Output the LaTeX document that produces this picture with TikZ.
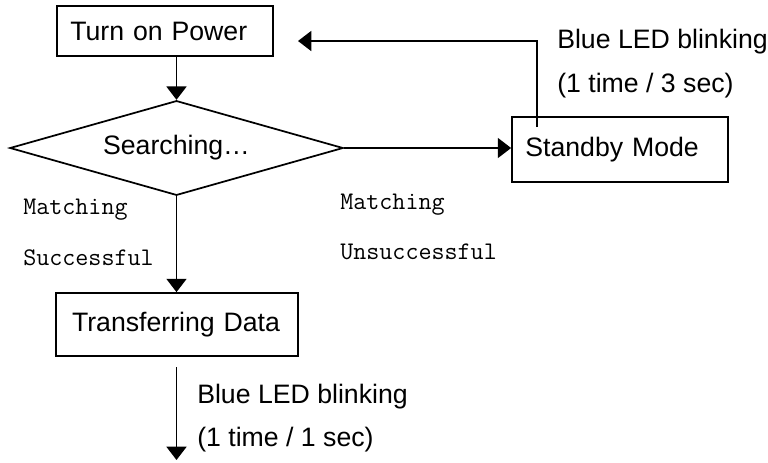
\documentclass[tikz,border=0pt]{standalone}
\usepackage{fontspec}
\setmainfont{Liberation Sans}
\usetikzlibrary{shapes.geometric,arrows.meta,positioning}
\tikzset{
	box/.style 2 args={draw,line width=1.3pt,rectangle,text width=#1,minimum height=#2,
			inner xsep=10pt,align=left},
	decision/.style={draw,line width=1.3pt,diamond,aspect=3.5,inner sep=0pt,
			minimum width=250pt,minimum height=71pt},
	arr/.style={line width=1.3pt,-{Triangle[length=10pt,width=15pt]}},
	note/.style={anchor=west,inner sep=0pt},
	match/.style={anchor=west,inner sep=0pt,font=\fontsize{19}{23}\ttfamily}
}
\begin{document}
\begin{tikzpicture}[x=0.75pt,y=-0.75pt,font=\fontsize{20}{24}\selectfont]
	\useasboundingbox (0,0) rectangle (768,462);
	\node[box={142pt}{37.5pt}] (power) at (165,31) {Turn on Power};
	\node[decision] (search) at (176.5,148) {Searching…\hspace{12pt}};
	\node[box={142pt}{48.75pt}] (standby) at (620,149.5) {Standby Mode\\[-4pt]};
	\node[box={157.5pt}{47.25pt},inner xsep=12pt] (transfer) at (177,324.5) {Transferring Data};

	\coordinate (fbstart) at (537,127);
	\coordinate (fbend) at (298,41);
	\coordinate (outstart) at (176.5,367);
	\coordinate (outend) at (176.5,460);

	\draw[arr] (search.north |- power.south) -- (search.north);
	\draw[arr] (search.east) -- (search.east -| standby.west);
	\draw[arr] (fbstart) |- (fbend);
	\draw[arr] (search.south) -- (search.south |- transfer.north);
	\draw[arr] (outstart) -- (outend);

	\node[note] (blinkA) at (557,42) {Blue LED blinking};
	\node[note] (rateA) at (557,86) {(1 time / 3 sec)};
	\node[note] (blinkB) at (197,397) {Blue LED blinking};
	\node[note] (rateB) at (197,440) {(1 time / 1 sec)};

	\node[match] (okA) at (23,210) {Matching};
	\node[match] (okB) at (23,258) {Successful};
	\node[match] (failA) at (340,205) {Matching};
	\node[match] (failB) at (340,252) {Unsuccessful};
\end{tikzpicture}
\end{document}
